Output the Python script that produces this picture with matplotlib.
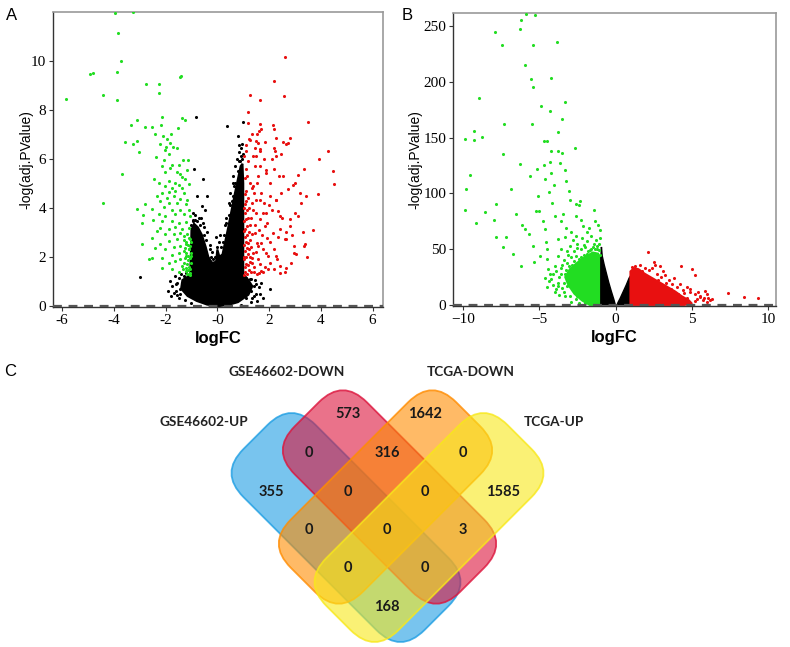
import matplotlib
matplotlib.use("Agg")
import matplotlib.pyplot as plt
import matplotlib.transforms as mtransforms
from matplotlib.patches import FancyBboxPatch

# ---------------- panel A (volcano, GSE46602) ----------------
a_green_x = [-3.95, -3.24, -3.82, -3.73, -4.91, -4.81, -3.86, -1.46, -1.41, -2.76, -2.27, -2.24,
             -5.85, -4.40, -3.88, -3.11, -3.33, -2.79, -2.51, -2.12, -2.17, -1.38, -1.51, -1.25,
             -3.57, -3.24, -3.09, -2.41, -3.69, -4.40,
             -2.09, -1.96, -1.83, -2.21, -1.70, -2.00, -1.79, -1.55,
             -3.03, -2.01, -1.88, -2.38, -1.32, -1.14, -2.08, -1.75, -1.49, -2.14, -1.82, -2.01,
             -1.56, -1.43, -1.17, -1.36, -2.44, -2.27, -1.88, -1.62, -1.49, -1.26, -1.10, -2.01,
             -1.75, -1.36, -2.14, -1.88, -1.62, -1.30, -2.34, -1.95, -1.69, -1.43, -1.17, -2.21,
             -1.88, -1.56, -1.23, -3.12, -2.79, -2.53, -2.08, -1.75, -1.43, -1.10, -2.86, -2.27,
             -2.01, -1.62, -1.30, -1.04, -2.92, -2.47, -2.14, -1.75, -1.49, -1.23, -2.21, -1.88,
             -1.62, -1.36, -1.10, -2.34, -2.53, -2.01, -1.69, -1.43, -1.17, -2.92, -2.21, -1.88,
             -1.56, -1.30, -1.04, -2.40, -2.01, -1.69, -1.43, -1.23, -1.04, -2.66, -2.53, -2.14,
             -1.75, -1.49, -1.30, -1.10, -1.01, -1.88, -1.62, -1.43, -1.23, -1.04, -2.14, -1.75,
             -1.36, -1.17, -1.01, -1.23, -1.04, -1.49, -1.10,
             -1.05, -1.12, -1.20, -1.28, -1.08, -1.15, -1.02, -1.20, -1.08, -1.25, -1.15, -1.03,
             -1.22, -1.10, -1.30, -1.05, -1.18, -1.32, -1.26, -1.12]
a_green_y = [11.95, 11.98, 11.13, 10.01, 9.47, 9.52, 9.53, 9.36, 9.38, 9.05, 9.06, 8.71,
             8.45, 8.59, 8.41, 7.60, 7.39, 7.30, 7.29, 7.71, 7.38, 7.67, 7.26, 7.57,
             6.70, 6.62, 6.73, 7.03, 5.37, 4.18,
             6.92, 6.80, 6.66, 6.60, 6.50, 6.47, 7.01, 6.45,
             6.27, 6.35, 6.21, 6.08, 5.97, 5.94, 5.94, 5.77, 5.77, 5.70, 5.63, 5.45,
             5.45, 5.40, 5.54, 5.26, 5.18, 5.02, 5.09, 5.02, 4.95, 5.16, 4.99, 4.88,
             4.82, 4.82, 4.61, 4.64, 4.68, 4.61, 4.48, 4.41, 4.48, 4.37, 4.34, 4.27,
             4.21, 4.21, 4.14, 3.96, 4.17, 3.96, 4.04, 3.93, 3.93, 3.93, 3.70, 3.73,
             3.66, 3.73, 3.73, 3.66, 3.39, 3.49, 3.46, 3.46, 3.37, 3.42, 3.19, 3.12,
             3.23, 3.12, 3.19, 3.05, 2.78, 2.92, 2.92, 2.96, 2.92, 2.54, 2.51, 2.65,
             2.71, 2.69, 2.71, 2.37, 2.31, 2.42, 2.44, 2.51, 2.44, 1.90, 1.97, 1.97,
             2.06, 2.17, 2.24, 2.31, 2.17, 1.76, 1.83, 1.90, 2.04, 1.97, 1.56, 1.52,
             1.63, 1.70, 1.76, 1.42, 1.49, 1.38, 1.29,
             1.35, 1.45, 1.55, 1.75, 1.60, 1.85, 2.05, 2.15, 2.30, 2.35, 2.50, 2.60,
             2.62, 2.78, 2.85, 1.25, 1.30, 1.50, 1.95, 2.05]

a_red_x = [2.61, 2.18, 1.25, 2.56, 1.65, 1.19, 3.51, 1.19, 1.64, 1.67, 2.15, 2.19, 1.32, 1.53,
           1.62, 1.21, 2.28, 2.82, 1.48, 1.58, 1.83, 2.52, 2.65, 1.12, 1.44, 1.64, 1.66, 2.19,
           2.21, 1.12, 4.27,
           2.47, 3.92, 4.46, 4.50, 3.88, 3.69, 3.33, 3.05, 2.98, 3.11, 2.73, 2.79, 2.41, 2.60,
           2.64, 2.41, 2.30, 2.18, 2.28, 2.34, 2.02, 1.89, 2.02, 1.77, 1.83, 1.92, 1.77, 1.96,
           1.64, 1.53, 1.70, 1.44, 1.57, 1.32, 1.51, 1.38, 1.64, 1.44, 1.53, 1.38, 1.32, 1.40,
           2.92, 3.24, 3.43, 3.11, 2.79, 2.66, 2.98, 3.37, 2.41, 2.60, 2.25, 2.02, 1.76, 1.89,
           1.57, 2.15, 2.41, 1.89, 2.28, 1.64, 1.38, 1.89, 2.28, 1.38, 1.64, 2.54, 2.73, 1.25,
           1.03, 1.08, 1.15, 1.22, 1.05, 1.12, 1.20, 1.28, 1.04, 1.10, 1.18, 1.25, 1.06, 1.14,
           1.22, 1.03, 1.10, 1.19, 1.27, 1.05, 1.13, 1.21, 1.08, 1.16, 1.25, 1.04, 1.12, 1.20,
           1.07, 1.15, 1.24, 1.05, 1.12, 1.20, 1.06, 1.10, 1.30, 1.33, 1.30, 1.35, 1.29, 1.34,
           1.05, 1.10, 1.20, 1.03, 1.15, 1.25, 1.02, 1.02, 1.02, 1.45, 1.50, 1.48, 1.42, 1.55,
           1.70, 1.72, 1.60, 1.80, 1.90, 1.95, 2.05, 2.10, 2.00, 1.58, 1.68, 1.40, 1.62, 1.85,
           2.20, 2.35, 2.50, 2.45, 2.65, 2.90, 3.00, 3.20, 3.30, 3.45, 2.85, 2.20, 2.40, 2.10,
           1.80, 1.50, 3.00, 3.35]
a_red_y = [10.15, 9.19, 8.60, 8.58, 8.39, 7.90, 7.49, 7.48, 7.42, 7.23, 7.37, 7.23, 7.03, 7.03,
           7.12, 6.83, 6.87, 6.84, 6.73, 6.66, 6.68, 6.68, 6.62, 6.58, 6.45, 6.42, 6.34, 6.45,
           6.31, 6.34, 6.34,
           6.20, 6.00, 5.50, 4.98, 4.55, 3.08, 2.46, 2.12, 2.44, 5.36, 4.75, 3.53, 3.12, 2.71,
           1.56, 1.33, 1.90, 2.31, 4.34, 3.87, 5.02, 5.56, 4.48, 3.80, 3.26, 2.78, 2.31, 2.04,
           1.70, 1.29, 1.42, 5.70, 5.29, 4.82, 4.34, 3.93, 3.53, 2.99, 2.58, 2.17, 1.76, 1.36,
           4.95, 4.21, 4.48, 3.66, 3.26, 2.71, 2.17, 2.51, 1.63, 1.36, 2.04, 1.76, 1.36, 2.17,
           2.44, 2.99, 3.66, 3.80, 4.34, 4.34, 4.88, 5.43, 6.11, 6.11, 5.70, 5.29, 6.65, 6.78,
           1.25, 1.40, 1.30, 1.45, 1.60, 1.70, 1.65, 1.80, 1.90, 2.00, 2.10, 2.00, 2.25, 2.35,
           2.30, 2.50, 2.60, 2.55, 2.70, 2.80, 2.90, 3.00, 3.15, 3.25, 3.30, 3.45, 3.55, 3.60,
           3.80, 3.90, 4.00, 4.15, 4.30, 4.40, 4.55, 4.70, 2.40, 2.95, 3.60, 4.20, 1.40, 1.95,
           5.20, 5.60, 5.90, 6.10, 5.30, 5.00, 3.05, 2.00, 4.00, 3.30, 2.20, 3.80, 4.60, 5.00,
           4.60, 2.90, 3.10, 4.20, 3.40, 1.50, 2.60, 3.90, 4.10, 1.90, 2.55, 1.60, 1.35, 1.60,
           1.50, 2.80, 3.60, 4.60, 3.00, 2.90, 3.80, 4.60, 3.00, 2.00, 1.75, 5.60, 5.30, 6.00,
           6.00, 6.10, 5.00, 5.60]

# dense core of the non-significant genes (outline)
a_core_x = [0.00, -0.40, -0.80, -1.15, -1.40, -1.35, -1.05, -1.02, -1.00, -0.90, -0.75, -0.60,
            -0.45, -0.35, -0.20, -0.05, 0.00, 0.08, 0.20, 0.30, 0.42, 0.55, 0.68, 0.80, 0.90,
            0.97, 1.00, 1.00, 1.00, 1.00, 1.20, 1.35, 1.20, 0.80, 0.40]
a_core_y = [-0.02, 0.05, 0.20, 0.40, 0.70, 1.05, 1.25, 2.20, 3.10, 3.35, 3.20, 2.90,
            2.40, 2.00, 1.75, 1.80, 2.30, 2.00, 2.10, 2.60, 3.20, 3.90, 4.60, 5.20, 5.70,
            5.80, 5.00, 4.00, 2.50, 1.30, 1.05, 0.80, 0.45, 0.15, 0.03]
a_black_x = [0.39, 1.00, -0.84, 0.80, 0.83, 0.90, 0.85, 0.95, 0.75, 0.88, 0.70, 0.92, 0.60, 0.65,
             0.50, 0.45, 0.55, 0.62, 0.35, 0.30,
             -0.90, -0.55, -0.39, -0.78, -0.61, -0.48, -0.93, -0.70, -0.85, -0.55, -0.95, -0.40,
             -0.30, -0.20, -0.50,
             -2.99, -1.82, -1.75, -1.69, -1.60, -1.55, -1.50, -1.45, -1.40, -1.35, -1.65, -1.90,
             1.20, 1.30, 1.40, 1.50, 1.60, 1.10, 1.35, 2.02, 1.25, 1.45, 1.15, 1.70,
             -0.10, 0.00, -0.05, 0.05, 0.10, 0.20,
             -1.50, -1.45, -1.30, -1.20, -1.25, -1.10, -1.55, -1.80, -1.60,
             -0.95, -0.88, -1.00, -0.80, -0.68, -0.62, -0.50, -0.42, -0.30, -0.25, -0.15,
             0.15, 0.25, 0.35, 0.45, 0.50, 0.60, 0.70, 0.78, 0.85, 0.95, 1.00,
             1.40, 1.50, 1.30, 1.55, 1.65, 1.75, 1.10, -1.00, 0.90, 1.30]
a_black_y = [7.35, 7.49, 7.71, 6.95, 6.58, 6.45, 6.30, 6.60, 6.00, 5.90, 5.70, 6.10, 5.30, 4.90,
             4.60, 4.20, 4.30, 5.00, 3.60, 3.30,
             5.59, 5.16, 4.48, 4.48, 4.07, 3.93, 3.80, 3.60, 3.50, 3.40, 3.45, 3.00,
             2.50, 2.20, 2.90,
             1.18, 1.02, 0.81, 0.54, 0.90, 0.45, 1.15, 0.70, 1.30, 0.95, 1.20, 0.60,
             0.90, 0.60, 0.80, 0.50, 0.75, 0.30, 0.30, 0.70, 1.10, 1.05, 0.55, 0.95,
             2.00, 2.40, 2.80, 2.60, 2.90, 2.60,
             0.30, 0.50, 1.20, 1.35, 0.25, 1.20, 0.95, 0.40, 0.60,
             3.50, 3.70, 3.30, 3.45, 3.30, 3.60, 3.20, 2.70, 2.30, 2.00, 1.90,
             2.40, 2.90, 3.40, 3.70, 4.10, 4.50, 5.00, 5.50, 5.90, 6.00, 6.20,
             0.40, 0.90, 1.10, 0.20, 0.50, 0.30, 1.15, 0.10, 0.05, 0.15]

a_xticks = [-6, -4, -2, 0, 2, 4, 6]
a_xticklabels = ["-6", "-4", "-2", "-0", "2", "4", "6"]
a_yticks = [0, 2, 4, 6, 8, 10]

# ---------------- panel B (volcano, TCGA) ----------------
b_green_x = [-5.90, -5.26, -6.17, -6.24, -7.92, -7.42, -5.41, -3.86, -5.96, -5.52, -4.25, -5.43,
             -8.95, -3.33, -4.86, -4.27, -3.49, -7.33, -5.50, -9.28, -8.75, -9.89, -9.28, -4.67,
             -4.49, -3.77, -2.68, -7.38, -4.21,
             -9.89, -9.78, -9.52, -9.13, -8.58, -7.81, -7.96, -7.81, -7.38, -7.16, -6.87, -6.72,
             -6.55, -6.28, -6.17, -6.13, -5.96, -5.67, -5.63, -5.41, -5.37, -5.24, -5.08, -5.01,
             -5.12, -4.97, -4.71, -4.64, -4.75, -4.64, -4.54, -4.49, -4.49, -4.43, -4.36, -4.27,
             -4.36, -4.21, -4.05, -4.14, -3.99, -3.77, -3.77, -3.66, -3.49, -3.33, -3.22, -3.05,
             -3.00, -3.44, -3.55, -3.22, -2.94, -2.61, -2.39, -2.31, -2.57, -2.24, -1.87, -1.74,
             -1.41, -1.37, -1.02, -2.13, -2.57, -3.00, -3.33, -3.55, -3.77, -3.99, -4.10, -3.77,
             -3.88, -4.21,
             -2.80, -2.50, -2.20, -1.90, -1.60, -1.30, -1.10, -2.00, -2.70, -3.10, -3.40, -2.30,
             -1.50, -1.20, -3.60, -3.30, -3.70, -3.50, -3.90, -3.20, -2.90, -2.60, -1.80, -4.60,
             -4.10, -3.40, -3.00, -2.60, -3.20, -1.05, -1.15,
             -3.40, -3.60, -3.50, -3.30, -2.90, -2.40, -3.10, -3.25, -2.85, -2.40, -2.10, -1.70,
             -1.35, -1.10, -1.00, -2.20, -2.60, -3.00, -2.75, -2.50, -2.00, -1.60, -1.90, -2.30,
             -2.75, -3.05, -3.80, -3.70, -4.00, -4.30, -4.50, -1.25, -1.45, -2.05, -2.55, -3.20]
b_green_y = [261.0, 260.4, 255.4, 247.6, 244.6, 233.6, 233.0, 236.0, 215.7, 202.9, 203.8, 195.4,
             185.6, 182.0, 178.4, 173.9, 167.1, 162.0, 162.6, 156.0, 151.0, 148.6, 147.7, 147.0,
             147.0, 155.0, 140.5, 135.1, 138.0,
             85.0, 104.4, 116.6, 73.4, 83.8, 90.4, 76.4, 60.6, 52.2, 60.6, 103.8, 45.6,
             81.4, 126.2, 35.2, 71.6, 68.0, 63.5, 115.7, 52.5, 38.8, 84.4, 97.9, 84.4,
             121.7, 44.2, 125.3, 112.8, 75.5, 68.0, 56.7, 50.1, 41.2, 32.2, 21.8, 128.3,
             101.4, 118.7, 107.4, 91.9, 80.0, 138.1, 59.0, 127.0, 136.0, 121.1, 111.3, 102.3,
             94.3, 81.4, 75.5, 68.6, 65.0, 90.4, 89.5, 93.4, 80.0, 76.4, 65.6, 68.6,
             85.3, 75.5, 67.4, 70.4, 62.0, 53.1, 60.6, 50.1, 44.2, 35.2, 27.7, 17.3,
             14.3, 23.3,
             58.0, 55.0, 60.0, 57.0, 62.0, 58.0, 55.0, 52.0, 48.0, 45.0, 40.0, 50.0,
             52.0, 50.0, 33.0, 28.0, 25.0, 36.0, 30.0, 38.0, 43.0, 44.0, 48.0, 24.0,
             18.0, 12.0, 8.0, 5.0, 17.0, 60.0, 72.0,
             20.0, 28.0, 15.0, 8.0, 3.0, 1.5, 24.0, 31.0, 36.0, 41.0, 45.0, 49.0,
             50.0, 49.0, 45.0, 40.0, 33.0, 28.0, 15.0, 8.0, 2.0, 50.0, 46.0, 43.0,
             39.0, 35.0, 20.0, 9.0, 12.0, 28.0, 16.0, 53.0, 55.0, 54.0, 51.0, 48.0]
b_green_core_x = [-0.97, -1.70, -2.20, -2.70, -3.10, -3.30, -3.00, -2.50, -2.00, -1.50, -1.15, -0.97]
b_green_core_y = [0.0, 0.0, 4.0, 10.0, 18.0, 25.0, 32.0, 38.0, 43.0, 47.0, 46.0, 40.0]

b_black_left_x = [-0.97, -0.97, -0.93, -0.88, -0.75, -0.60, -0.45, -0.28, -0.12, -0.04, -0.10]
b_black_left_y = [0.0, 42.0, 52.0, 44.0, 36.0, 28.0, 20.0, 12.0, 5.0, 1.0, 0.0]
b_black_right_x = [0.10, 0.97, 0.97, 0.88, 0.70, 0.50, 0.30, 0.15]
b_black_right_y = [0.0, 0.0, 26.0, 24.0, 18.0, 12.0, 6.0, 2.0]

b_red_core_x = [0.97, 0.97, 1.20, 1.50, 1.90, 2.40, 2.90, 3.40, 3.90, 4.30, 4.80, 5.00, 4.50]
b_red_core_y = [0.0, 30.0, 33.0, 32.0, 28.0, 24.0, 20.0, 16.0, 12.0, 8.0, 4.0, 1.0, 0.0]
b_red_x = [2.13, 2.51, 2.57, 2.90, 4.25, 4.97, 5.19, 3.25, 4.21, 4.64, 4.86, 5.19, 5.85, 5.96,
           6.07, 6.28, 5.52, 5.30, 7.38, 8.43, 9.35, 1.60, 1.30, 1.90, 2.20, 2.70, 3.00, 3.50,
           3.70, 4.00, 4.40, 3.80, 3.10, 2.35, 1.10, 1.70, 5.50, 5.70, 6.00, 5.20, 4.70, 3.60,
           4.10, 2.80, 4.50, 5.40, 6.20, 5.80, 4.90, 3.30]
b_red_y = [47.1, 38.8, 35.8, 34.6, 35.2, 32.2, 26.8, 26.8, 18.8, 15.8, 11.3, 9.8, 12.8, 9.8,
           6.3, 5.4, 6.9, 5.4, 10.7, 6.9, 6.3, 36.0, 35.0, 33.0, 31.0, 28.0, 25.0, 22.0,
           19.0, 16.0, 13.0, 24.0, 30.0, 33.0, 34.0, 30.0, 8.0, 4.0, 3.0, 3.5, 6.5, 14.0,
           10.0, 22.0, 11.0, 11.5, 4.0, 6.2, 14.0, 20.0]

b_xticks = [-10, -5, 0, 5, 10]
b_yticks = [0, 50, 100, 150, 200, 250]

# ---------------- panel C (Venn) ----------------
venn_names = ["GSE46602-UP", "GSE46602-DOWN", "TCGA-DOWN", "TCGA-UP"]
venn_colors = ["#1E9EE3", "#DC143C", "#FF8C00", "#F8E81A"]
venn_counts = [573, 1642, 0, 316, 0, 355, 0, 0, 1585, 0, 0, 3, 0, 0, 168]

GREEN = "#22DD22"
RED = "#E81010"

fig = plt.figure(figsize=(7.9, 6.47), dpi=100)


def style_volcano(ax, xlim, ylim, xticks, yticks, xticklabels=None, ylabelpad=-3):
    ax.set_xlim(*xlim)
    ax.set_ylim(*ylim)
    ax.set_xticks(xticks)
    if xticklabels is not None:
        ax.set_xticklabels(xticklabels)
    ax.set_yticks(yticks)
    ax.tick_params(direction="out", length=3, width=0.8, pad=2, color="#333333",
                   labelsize=11, labelfontfamily="Liberation Serif")
    for side in ["top", "right"]:
        ax.spines[side].set_color("#999999")
        ax.spines[side].set_linewidth(1.2)
    for side in ["left", "bottom"]:
        ax.spines[side].set_color("#333333")
        ax.spines[side].set_linewidth(1.0)
    ax.axhline(0, color="#555555", lw=1.6, ls=(0, (4, 3)), zorder=5)
    ax.set_ylabel("-log(adj.PValue)", fontsize=10, family="Liberation Sans", labelpad=ylabelpad)
    ax.set_xlabel("logFC", fontsize=12, fontweight="bold", family="Liberation Sans", labelpad=3)


dot = dict(s=5, linewidths=0, zorder=3)

# --- A ---
axA = fig.add_axes([53 / 790, 1 - 307 / 647, 330 / 790, 295 / 647])
axA.fill(a_core_x, a_core_y, color="black", lw=1.5, zorder=2)
axA.scatter(a_black_x, a_black_y, color="black", **dot)
axA.scatter(a_green_x, a_green_y, color=GREEN, **dot)
axA.scatter(a_red_x, a_red_y, color=RED, **dot)
style_volcano(axA, (-6.35, 6.4), (-0.05, 12.0), a_xticks, a_yticks, a_xticklabels, ylabelpad=-2)

# --- B ---
axB = fig.add_axes([453 / 790, 1 - 306 / 647, 323 / 790, 293 / 647])
axB.fill(b_green_core_x, b_green_core_y, color=GREEN, lw=1.5, zorder=2)
axB.fill(b_black_left_x, b_black_left_y, color="black", lw=1.0, zorder=2)
axB.fill(b_black_right_x, b_black_right_y, color="black", lw=1.0, zorder=2)
axB.fill(b_red_core_x, b_red_core_y, color=RED, lw=1.5, zorder=2)
axB.scatter(b_green_x, b_green_y, color=GREEN, **dot)
axB.scatter(b_red_x, b_red_y, color=RED, **dot)
style_volcano(axB, (-10.65, 10.5), (-1, 262), b_xticks, b_yticks, ylabelpad=0.5)

fig.text(12 / 790, 1 - 15 / 647, "A", fontsize=12, family="Liberation Sans", va="center", ha="center")
fig.text(407 / 790, 1 - 15 / 647, "B", fontsize=12, family="Liberation Sans", va="center", ha="center")
fig.text(10 / 790, 1 - 372 / 647, "C", fontsize=12, family="Liberation Sans", va="center", ha="center")

# --- C: four rounded rectangles (pixel-space axes) ---
axC = fig.add_axes([0, 0, 1, 1], zorder=-1)
axC.set_xlim(0, 790)
axC.set_ylim(647, 0)
axC.axis("off")

shape_centers = [(346, 527.5), (389.5, 497), (385.5, 497), (429, 527.5)]
shape_lengths = [256, 234, 234, 256]
shape_angles = [45, 45, -45, -45]
shape_width = 102
shape_radius = 34

for (cx, cy), ln, ang, col in zip(shape_centers, shape_lengths, shape_angles, venn_colors):
    box = FancyBboxPatch((cx - ln / 2, cy - shape_width / 2), ln, shape_width,
                         boxstyle=f"round,pad=0,rounding_size={shape_radius}",
                         facecolor=matplotlib.colors.to_rgba(col, 0.6),
                         edgecolor=matplotlib.colors.to_rgba(col, 0.8), lw=1.3)
    box.set_transform(mtransforms.Affine2D().rotate_deg_around(cx, cy, ang) + axC.transData)
    axC.add_patch(box)

name_pos = [(204, 422), (287, 372), (471, 372), (554, 422)]
for (x, y), name in zip(name_pos, venn_names):
    axC.text(x, y, name, ha="center", va="center", fontsize=9.8, fontweight="bold",
             family="Lato", color="#222222")

count_pos = [(348, 414), (425, 414), (309, 453), (387, 453), (463, 453), (271, 492),
             (348, 492), (425, 492), (503, 492), (309, 530), (387, 530), (463, 530),
             (348, 568), (425, 568), (387, 607)]
for (x, y), n in zip(count_pos, venn_counts):
    axC.text(x, y, str(n), ha="center", va="center", fontsize=10.5, fontweight="bold",
             family="Lato", color="#1a1a1a")

fig.savefig("out.png", dpi=100)
